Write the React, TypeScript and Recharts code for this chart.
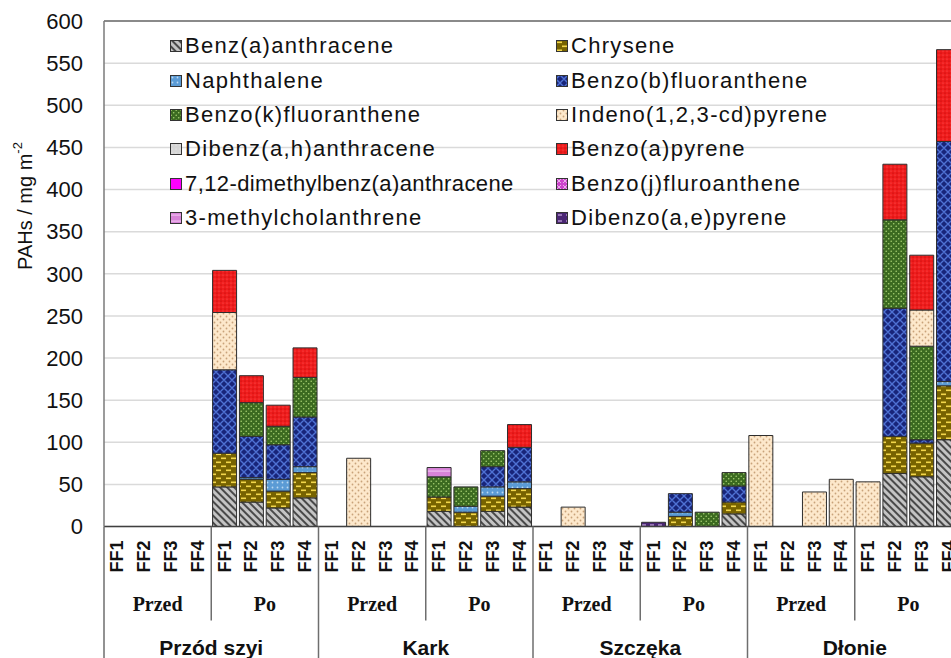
import React from 'react';
import { Bar, BarChart, CartesianGrid, Legend, ReferenceLine, XAxis, YAxis } from 'recharts';

const parts = ['Przód szyi', 'Kark', 'Szczęka', 'Dłonie'];
const phases = ['Przed', 'Po'];
const filters = ['FF1', 'FF2', 'FF3', 'FF4'];
const yTicks = [0, 50, 100, 150, 200, 250, 300, 350, 400, 450, 500, 550, 600];

// mg m-2, one value per column: part -> Przed/Po -> FF1..FF4
const benzAAnthracene = [0, 0, 0, 0, 47, 29, 22, 34, 0, 0, 0, 0, 18, 0, 18, 23, 0, 0, 0, 0, 0, 0, 0, 15, 0, 0, 0, 0, 0, 63, 59, 103];
const chrysene = [0, 0, 0, 0, 40, 27, 20, 30, 0, 0, 0, 0, 17, 17, 18, 22, 0, 0, 0, 0, 0, 12, 0, 14, 0, 0, 0, 0, 0, 44, 40, 64];
const naphthalene = [0, 0, 0, 0, 0, 2, 14, 7, 0, 0, 0, 0, 0, 7, 11, 8, 0, 0, 0, 0, 0, 5, 0, 0, 0, 0, 0, 0, 0, 0, 0, 5];
const benzoBFluoranthene = [0, 0, 0, 0, 99, 49, 41, 59, 0, 0, 0, 0, 0, 0, 24, 41, 0, 0, 0, 0, 0, 22, 0, 19, 0, 0, 0, 0, 0, 152, 4, 285];
const benzoKFluoranthene = [0, 0, 0, 0, 0, 40, 22, 47, 0, 0, 0, 0, 24, 23, 19, 0, 0, 0, 0, 0, 0, 0, 17, 16, 0, 0, 0, 0, 0, 105, 111, 0];
const indenoPyrene = [0, 0, 0, 0, 68, 0, 0, 0, 0, 81, 0, 0, 0, 0, 0, 0, 0, 23, 0, 0, 0, 0, 0, 0, 108, 0, 41, 56, 53, 0, 43, 0];
const dibenzAHAnthracene = [0, 0, 0, 0, 0, 0, 0, 0, 0, 0, 0, 0, 0, 0, 0, 0, 0, 0, 0, 0, 0, 0, 0, 0, 0, 0, 0, 0, 0, 0, 0, 0];
const benzoAPyrene = [0, 0, 0, 0, 50, 32, 25, 35, 0, 0, 0, 0, 0, 0, 0, 27, 0, 0, 0, 0, 0, 0, 0, 0, 0, 0, 0, 0, 0, 66, 65, 109];
const dimethylBenzAnthracene = [0, 0, 0, 0, 0, 0, 0, 0, 0, 0, 0, 0, 0, 0, 0, 0, 0, 0, 0, 0, 0, 0, 0, 0, 0, 0, 0, 0, 0, 0, 0, 0];
const benzoJFluoranthene = [0, 0, 0, 0, 0, 0, 0, 0, 0, 0, 0, 0, 0, 0, 0, 0, 0, 0, 0, 0, 0, 0, 0, 0, 0, 0, 0, 0, 0, 0, 0, 0];
const methylcholanthrene = [0, 0, 0, 0, 0, 0, 0, 0, 0, 0, 0, 0, 11, 0, 0, 0, 0, 0, 0, 0, 0, 0, 0, 0, 0, 0, 0, 0, 0, 0, 0, 0];
const dibenzoAEPyrene = [0, 0, 0, 0, 0, 0, 0, 0, 0, 0, 0, 0, 0, 0, 0, 0, 0, 0, 0, 0, 5, 0, 0, 0, 0, 0, 0, 0, 0, 0, 0, 0];

const series = [
  { key: 'baa', name: 'Benz(a)anthracene', values: benzAAnthracene },
  { key: 'chr', name: 'Chrysene', values: chrysene },
  { key: 'nap', name: 'Naphthalene', values: naphthalene },
  { key: 'bbf', name: 'Benzo(b)fluoranthene', values: benzoBFluoranthene },
  { key: 'bkf', name: 'Benzo(k)fluoranthene', values: benzoKFluoranthene },
  { key: 'ind', name: 'Indeno(1,2,3-cd)pyrene', values: indenoPyrene },
  { key: 'dba', name: 'Dibenz(a,h)anthracene', values: dibenzAHAnthracene },
  { key: 'bap', name: 'Benzo(a)pyrene', values: benzoAPyrene },
  { key: 'dmb', name: '7,12-dimethylbenz(a)anthracene', values: dimethylBenzAnthracene },
  { key: 'bjf', name: 'Benzo(j)fluroanthene', values: benzoJFluoranthene },
  { key: 'mch', name: '3-methylcholanthrene', values: methylcholanthrene },
  { key: 'dae', name: 'Dibenzo(a,e)pyrene', values: dibenzoAEPyrene },
];

const columns = parts.flatMap((part) =>
  phases.flatMap((phase) => filters.map((ff) => ({ part, phase, ff })))
);

const data = columns.map((c, i) => {
  const row: Record<string, string | number> = { id: `${c.part}-${c.phase}-${c.ff}`, ff: c.ff, phase: c.phase, part: c.part };
  series.forEach((s) => {
    row[s.key] = s.values[i];
  });
  return row;
});

const SANS = '"Liberation Sans", Arial, sans-serif';
const SERIF = '"Liberation Serif", "Times New Roman", serif';

const CHART_W = 962;
const CHART_H = 658;
const AXIS_W = 104;
const BAND = (CHART_W - AXIS_W) / columns.length;

function XTick(props: any) {
  const { x, y, index } = props;
  const col = columns[index];
  if (!col) return null;
  const left = x - BAND / 2;
  return (
    <g>
      <text
        x={x}
        y={y + 14}
        transform={`rotate(-90 ${x} ${y + 14})`}
        textAnchor="end"
        dominantBaseline="central"
        fontFamily={SANS}
        fontWeight="bold"
        fontSize={18}
        fill="#111"
      >
        {col.ff}
      </text>
      {index % 4 === 0 && (
        <line x1={left} x2={left} y1={y} y2={index % 8 === 0 ? CHART_H : y + 94} stroke="#6e6e6e" strokeWidth={1.5} />
      )}
      {index % 4 === 1 && (
        <text x={x + BAND / 2} y={y + 77} textAnchor="middle" dominantBaseline="central" fontFamily={SERIF} fontWeight="bold" fontSize={20} fill="#111">
          {col.phase}
        </text>
      )}
      {index % 8 === 3 && (
        <text x={x + BAND / 2} y={y + 121} textAnchor="middle" dominantBaseline="central" fontFamily={SANS} fontWeight="bold" fontSize={21} fill="#111">
          {col.part}
        </text>
      )}
    </g>
  );
}

function YTitle() {
  return (
    <text x={-206} y={25} transform="rotate(-90)" textAnchor="middle" dominantBaseline="central" fontFamily={SANS} fontSize={20} fill="#111">
      PAHs / mg m
      <tspan dy={-8} fontSize={13}>-2</tspan>
    </text>
  );
}

function LegendBox() {
  return (
    <div style={{ display: 'grid', gridTemplateColumns: '386px 330px', fontFamily: SANS, fontSize: 22, letterSpacing: 1.3, color: '#111' }}>
      {series.map((s, i) => (
        <div key={s.key} style={{ height: 34.4, display: 'flex', alignItems: 'center', whiteSpace: 'nowrap' }}>
          <svg width={12} height={12} style={{ marginRight: 3, flex: 'none' }}>
            <rect x={0.5} y={0.5} width={11} height={11} fill={`url(#pat-${s.key})`} stroke="#333" strokeWidth={1} />
          </svg>
          <span style={{ letterSpacing: i === 8 ? 0.4 : 1.3 }}>{s.name}</span>
        </div>
      ))}
    </div>
  );
}

export default function App() {
  return (
    <div style={{ position: 'absolute', left: 0, top: 0, width: 951, height: 658, overflow: 'hidden', background: '#fff' }}>
      <BarChart width={CHART_W} height={CHART_H} data={data} margin={{ top: 21, right: 0, bottom: 0, left: 0 }} barCategoryGap="5%">
        <defs>
          <pattern id="pat-baa" width={5} height={5} patternUnits="userSpaceOnUse" patternTransform="rotate(-45)">
            <rect width={5} height={5} fill="#c4c4c4" />
            <rect width={2} height={5} fill="#4a4a4a" />
          </pattern>
          <pattern id="pat-chr" width={10} height={8} patternUnits="userSpaceOnUse">
            <rect width={10} height={8} fill="#776300" />
            <rect x={1} y={1.5} width={5} height={1.6} fill="#f2d64b" />
            <rect x={6} y={5.5} width={4} height={1.6} fill="#f2d64b" />
            <rect x={0} y={5.5} width={1} height={1.6} fill="#f2d64b" />
          </pattern>
          <pattern id="pat-nap" width={5} height={5} patternUnits="userSpaceOnUse">
            <rect width={5} height={5} fill="#5b9bd5" />
            <circle cx={2.5} cy={2.5} r={0.9} fill="#bcd9f2" />
          </pattern>
          <pattern id="pat-bbf" width={8} height={8} patternUnits="userSpaceOnUse">
            <rect width={8} height={8} fill="#18257a" />
            <path d="M0,4 L4,0 L8,4 L4,8 Z" fill="none" stroke="#4f72d4" strokeWidth={1.4} />
          </pattern>
          <pattern id="pat-bkf" width={5} height={5} patternUnits="userSpaceOnUse">
            <rect width={5} height={5} fill="#3b6a20" />
            <circle cx={1.2} cy={1.2} r={0.8} fill="#a6d071" />
            <circle cx={3.7} cy={3.7} r={0.8} fill="#a6d071" />
          </pattern>
          <pattern id="pat-ind" width={6} height={6} patternUnits="userSpaceOnUse">
            <rect width={6} height={6} fill="#fde8cb" />
            <circle cx={1.5} cy={1.5} r={0.9} fill="#c9a27a" />
            <circle cx={4.5} cy={4.5} r={0.9} fill="#c9a27a" />
          </pattern>
          <pattern id="pat-dba" width={4} height={4} patternUnits="userSpaceOnUse">
            <rect width={4} height={4} fill="#d6d6d6" />
            <circle cx={2} cy={2} r={0.6} fill="#f2f2f2" />
          </pattern>
          <pattern id="pat-bap" width={4} height={4} patternUnits="userSpaceOnUse">
            <rect width={4} height={4} fill="#ef1d1d" />
            <circle cx={1} cy={1} r={0.6} fill="#b30000" />
            <circle cx={3} cy={3} r={0.6} fill="#ff5a5a" />
          </pattern>
          <pattern id="pat-dmb" width={4} height={4} patternUnits="userSpaceOnUse">
            <rect width={4} height={4} fill="#ff00ff" />
          </pattern>
          <pattern id="pat-bjf" width={6} height={6} patternUnits="userSpaceOnUse">
            <rect width={6} height={6} fill="#cc44cc" />
            <path d="M1,1 L5,5 M5,1 L1,5" stroke="#f3c8f3" strokeWidth={0.8} />
          </pattern>
          <pattern id="pat-mch" width={6} height={6} patternUnits="userSpaceOnUse">
            <rect width={6} height={6} fill="#d884d8" />
            <rect y={2.5} width={6} height={1.2} fill="#f0bff0" />
          </pattern>
          <pattern id="pat-dae" width={8} height={6} patternUnits="userSpaceOnUse">
            <rect width={8} height={6} fill="#4a2673" />
            <rect x={2} y={2.4} width={4} height={1.2} fill="#c8a8e0" />
          </pattern>
        </defs>
        <CartesianGrid vertical={false} stroke="#dadada" strokeWidth={1.5} />
        <XAxis
          dataKey="id"
          interval={0}
          height={131.5}
          tickSize={0}
          tickMargin={0}
          tickLine={false}
          axisLine={{ stroke: '#404040', strokeWidth: 1.5 }}
          tick={<XTick />}
        />
        <YAxis
          domain={[0, 600]}
          ticks={yTicks}
          width={AXIS_W}
          tickSize={0}
          tickMargin={21}
          tickLine={false}
          axisLine={{ stroke: '#7a7a7a', strokeWidth: 1.5 }}
          tick={{ fontSize: 22, fill: '#111', fontFamily: SANS }}
          label={YTitle}
        />
        <ReferenceLine y={600} stroke="#8a8a8a" strokeWidth={2} />
        <Legend
          layout="vertical"
          align="center"
          verticalAlign="middle"
          content={<LegendBox />}
          wrapperStyle={{ position: 'absolute', left: 170, top: 29, width: 720, height: 210 }}
        />
        {series.map((s) => (
          <Bar
            key={s.key}
            dataKey={s.key}
            name={s.name}
            stackId="pah"
            fill={`url(#pat-${s.key})`}
            stroke="#2e2e2e"
            strokeWidth={1}
            isAnimationActive={false}
          />
        ))}
      </BarChart>
    </div>
  );
}
